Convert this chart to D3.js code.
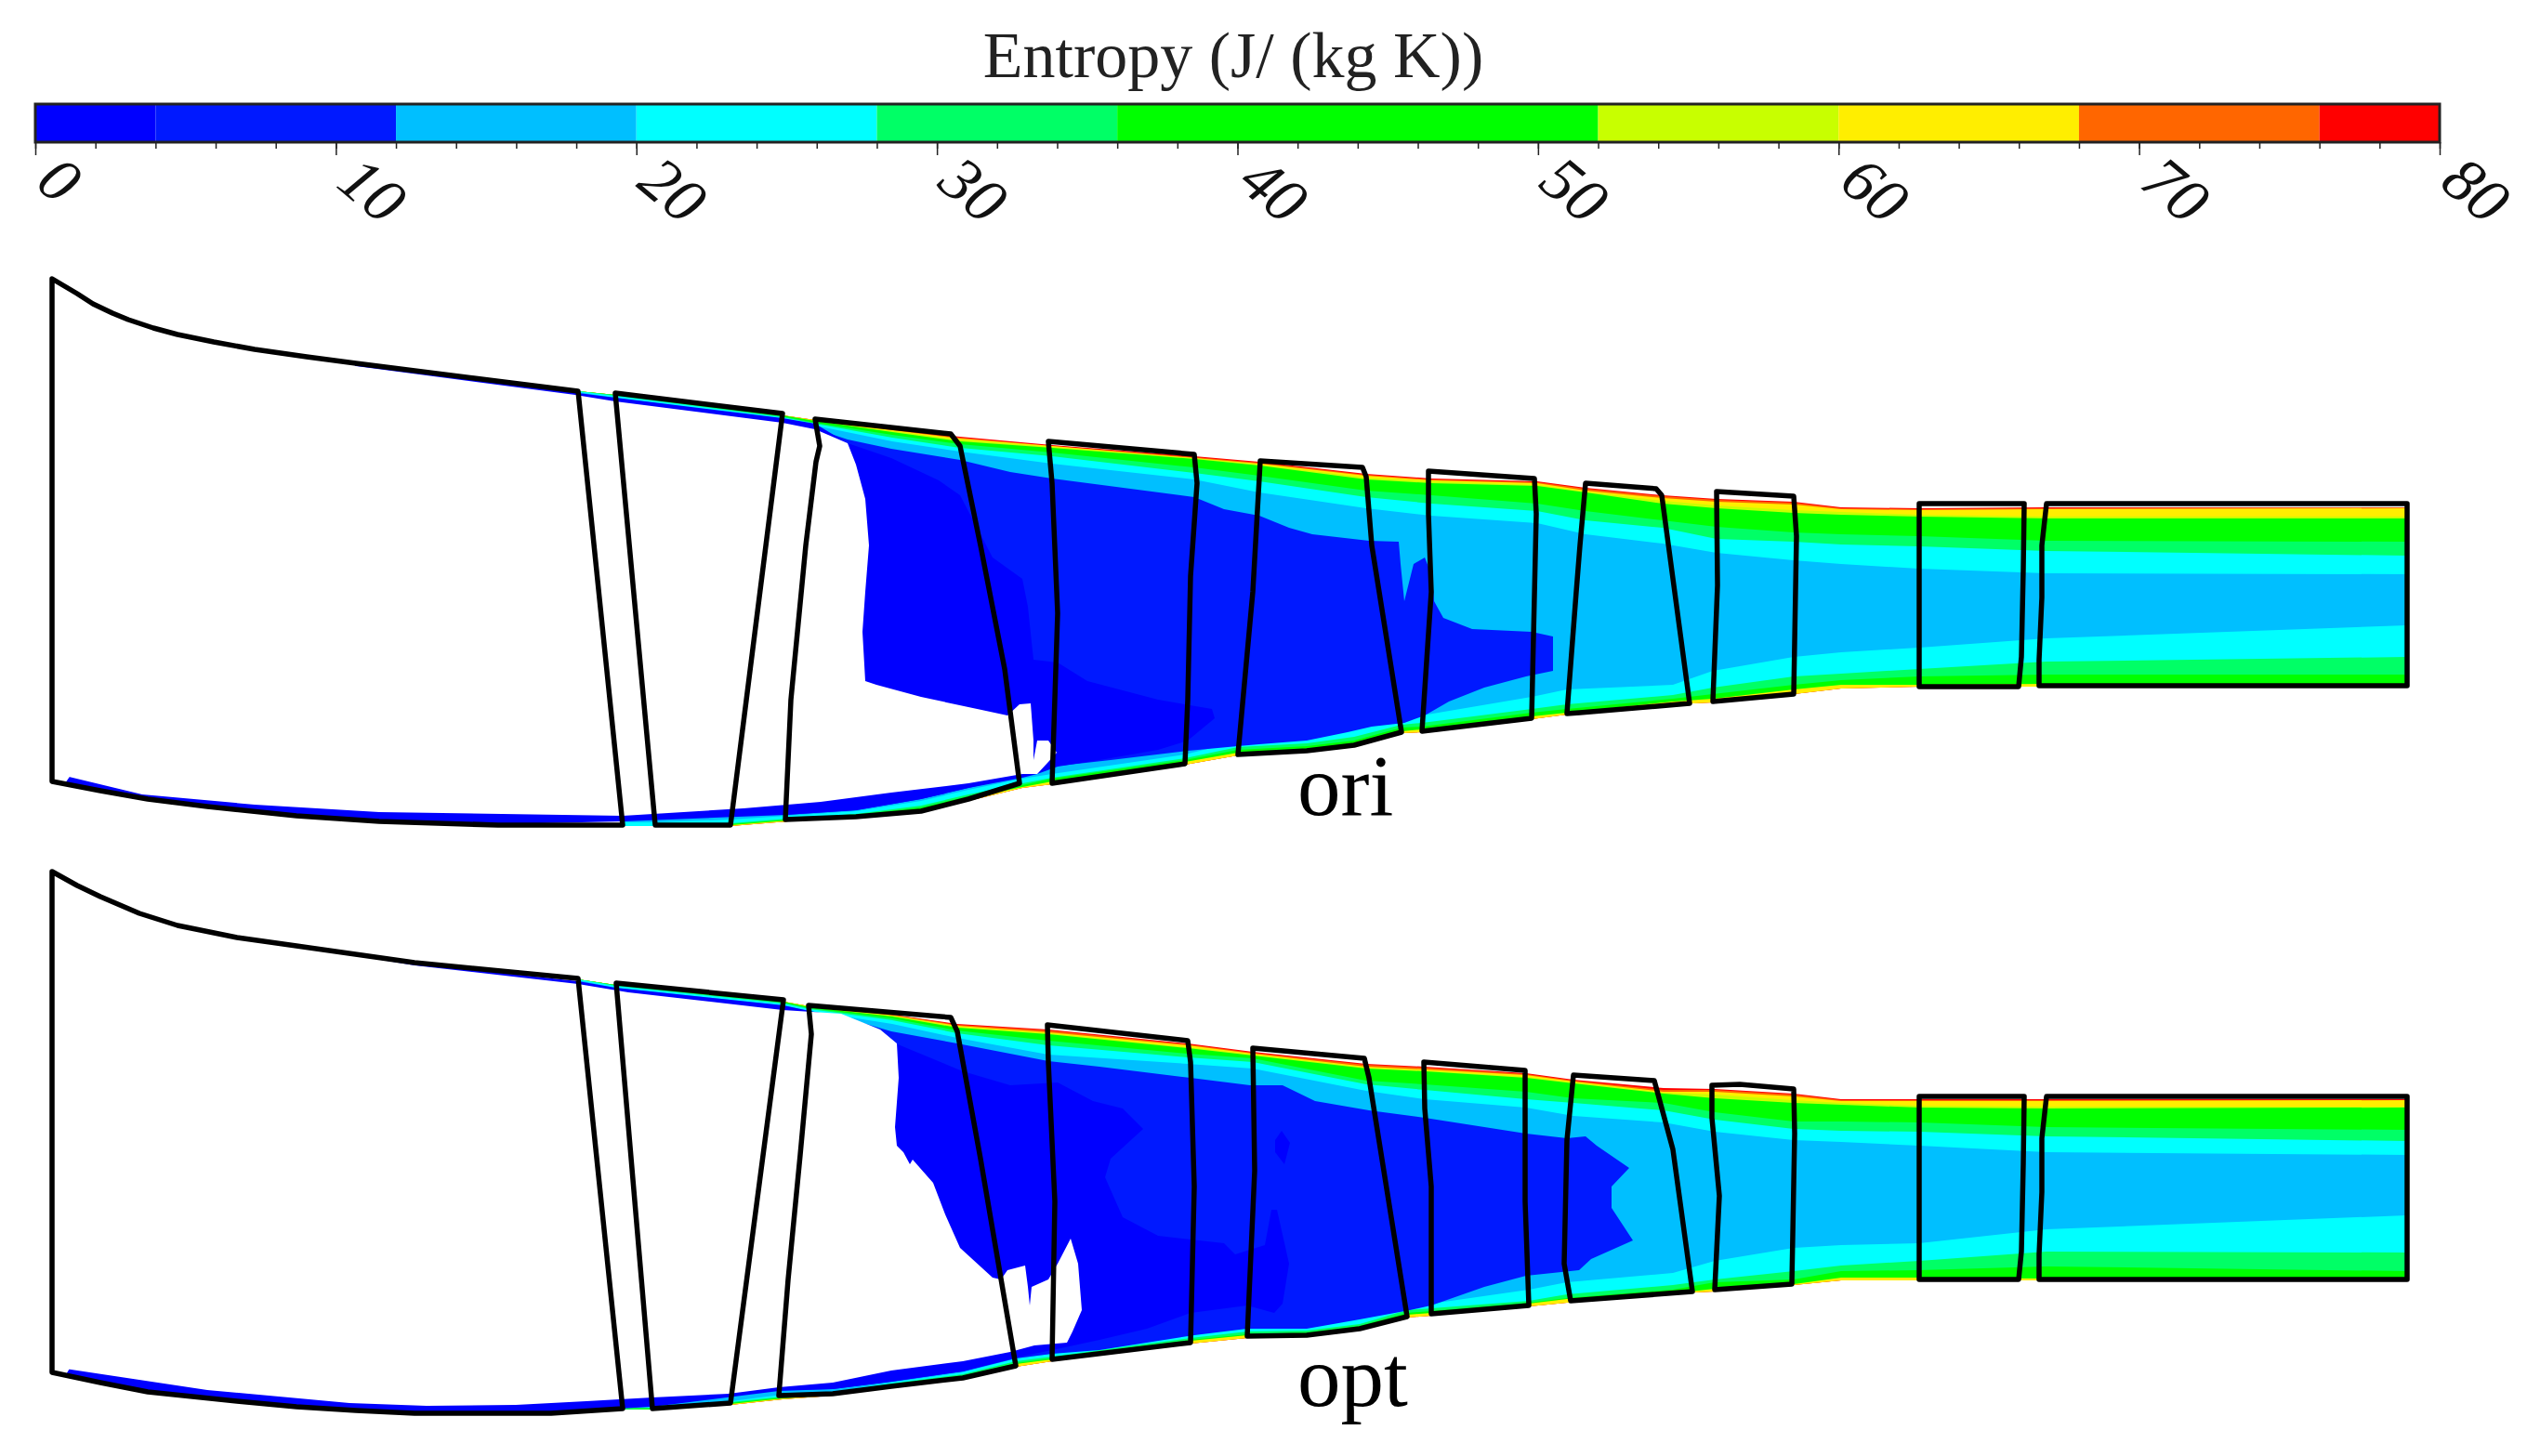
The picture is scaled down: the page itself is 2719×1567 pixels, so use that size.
<!DOCTYPE html>
<html>
<head>
<meta charset="utf-8">
<script src="https://cdn.jsdelivr.net/npm/d3@7"></script>
<style>
  html, body { margin: 0; background: #fff; }
  svg { display: block; }
</style>
</head>
<body>
<div id="chart"></div>
<script>
// colour bar
const barBreaks = [0, 4, 12, 20, 28, 36, 52, 60, 68, 76, 80];
const barColors = ["#0000ff", "#0019ff", "#00bfff", "#00ffff", "#00ff66", "#00ff00", "#c8ff00", "#ffee00", "#ff6600", "#ff0000"];
const majorTicks = [0, 10, 20, 30, 40, 50, 60, 70, 80];
const minorTicks = d3.range(0, 81, 2);
const barTitle = "Entropy (J/ (kg K))";

// all contours are [axial, depth], depth measured down from the top of each panel
// ---- ori: casing side iso-lines
const oriTipX = [622,662,842,877,960,1033,1132,1285,1355,1470,1540,1654,1706,1789,1847,1930,1981,2065,2202,2590];
const oriTipRed = [141,145,167,172,182,190,199,211,217,230,235,238,245,253,257,260,266,267,266,266];
const oriTipOrange = [141,145,167,172,182,191,200,212,218,231,236,239,246,254,258,261,267,268,267,266];
const oriTipYellow = [141,145,167,172,183,192,200,213,219,232,237,240,248,256,260,263,268,269,268,267];
const oriTipLime = [141,145,167,173,184,193,201,213,220,234,238,242,249,259,264,269,271,274,276,276];
const oriTipGreen = [141,145,167,173,185,195,202,214,221,236,240,243,250,262,267,272,274,276,278,278];
const oriTipSpring = [141,145,168,175,188,198,207,223,232,248,253,262,270,280,287,293,295,297,302,303];
const oriTipCyan = [141,146,169,176,191,202,211,229,238,255,262,270,280,288,300,303,306,308,313,318];
const oriTipSky = [142,148,172,178,195,206,219,236,250,267,275,283,295,305,315,323,327,332,337,338];
// ---- ori: hub side iso-lines
const oriHubX = [670,705,786,848,921,991,1042,1100,1132,1275,1332,1406,1457,1508,1530,1648,1686,1800,1843,1930,1981,2065,2202,2590];
const oriHubEdge = [609,609,609,604,600,593,582,568,564,543,533,529,522,509,508,494,489,478,476,467,461,459,459,459];
const oriHubGreen = [609,609,608,603,598,591,579,567,561,540,530,527,520,507,505,491,487,475,472,462,457,457,456,457];
const oriHubSpring = [609,609,607,602,597,589,577,565,558,538,527,523,517,503,502,487,483,472,467,457,452,448,446,446];
const oriHubCyan = [609,609,606,601,596,587,575,563,557,536,524,520,513,500,498,483,478,468,460,448,445,440,432,427];
const oriHubSky = [605,605,602,598,593,582,570,558,553,532,518,513,505,492,490,470,462,457,442,427,422,417,407,393];
// ---- ori: low entropy core
const oriBlue2 = [[864,177],[912,193],[959,203],[1033,215],[1087,228],[1132,235],[1285,255],[1317,268],[1355,275],[1387,288],[1412,295],[1473,302],[1505,303],[1507,327],[1511,367],[1521,327],[1533,320],[1541,340],[1543,367],[1553,385],[1584,397],[1648,400],[1671,405],[1671,442],[1642,448],[1597,460],[1559,475],[1533,490],[1511,498],[1476,502],[1450,508],[1406,517],[1355,521],[1332,523],[1278,528],[1195,538],[1132,545],[1100,555],[1042,568],[991,580],[921,592],[845,597]];
const oriBlue1 = [[383,112],[622,143],[662,148],[842,170],[877,176],[912,197],[959,213],[1010,237],[1033,253],[1068,320],[1100,343],[1106,373],[1112,430],[1138,433],[1170,453],[1246,473],[1304,483],[1307,493],[1278,517],[1246,527],[1189,537],[1138,545],[1116,553],[1100,557],[1042,568],[991,580],[921,592],[845,597],[670,604],[536,607],[408,603],[319,597],[223,587],[159,580],[70,563]];
const oriEmpty = [[56,22],[191,82],[383,114],[619,145],[662,152],[842,175],[877,182],[912,197],[921,220],[931,257],[935,307],[931,357],[928,400],[931,453],[943,457],[991,470],[1084,490],[1097,478],[1109,477],[1112,517],[1112,538],[1116,517],[1128,517],[1137,530],[1128,540],[1116,553],[1100,553],[1042,563],[959,573],[883,583],[800,590],[670,598],[408,594],[274,586],[153,575],[70,555],[56,555]];
// ---- ori: blade row outlines
const oriBlocks = [
  [[56,20],[83,36],[100,47],[121,57],[138,64],[165,73],[191,80],[230,88],[274,96],[330,104],[383,111],[510,127],[622,141],[637,286],[670,608],[536,608],[408,604],[319,598],[223,588],[159,580],[108,571],[56,561]],
  [[662,143],[842,165],[786,608],[705,608]],
  [[877,171],[1023,187],[1033,200],[1055,307],[1081,440],[1097,563],[1042,580],[991,593],[921,599],[845,602],[851,473],[867,307],[878,217],[882,200]],
  [[1128,195],[1285,209],[1288,240],[1281,340],[1278,473],[1275,542],[1132,563],[1138,380],[1132,240]],
  [[1356,216],[1466,223],[1470,233],[1476,307],[1508,508],[1457,522],[1406,528],[1332,532],[1348,357]],
  [[1537,227],[1651,235],[1653,273],[1648,493],[1530,507],[1540,357],[1537,273]],
  [[1706,240],[1782,246],[1788,253],[1818,477],[1700,487],[1686,488],[1696,357],[1700,307]],
  [[1847,249],[1930,254],[1933,297],[1930,467],[1843,475],[1848,350]],
  [[2065,262],[2178,262],[2177,333],[2175,427],[2172,459],[2065,459]],
  [[2202,262],[2590,262],[2590,458],[2194,458],[2194,430],[2197,363],[2197,307]]
];

// ---- opt: casing side iso-lines
const optTipX = [622,662,843,871,960,1030,1128,1278,1348,1470,1533,1642,1693,1790,1845,1930,1981,2065,2202,2590];
const optTipRed = [134,140,158,163,172,182,188,203,212,225,228,235,242,251,252,257,263,263,263,263];
const optTipOrange = [134,140,158,163,172,183,189,204,213,226,229,236,243,253,253,258,264,264,264,264];
const optTipYellow = [134,140,158,163,173,184,191,205,214,228,231,237,244,255,255,260,265,265,265,264];
const optTipLime = [134,140,158,163,173,185,192,207,215,229,232,239,245,256,258,264,267,270,271,271];
const optTipGreen = [134,140,158,164,174,186,193,208,216,230,233,240,246,257,262,267,269,272,273,272];
const optTipSpring = [134,140,159,165,176,189,200,214,219,243,247,255,262,267,277,287,287,288,293,296];
const optTipCyan = [134,141,160,166,178,192,205,218,223,247,253,263,267,275,285,295,297,298,303,308];
const optTipSky = [135,143,162,168,182,197,215,225,230,254,263,272,281,288,298,307,309,313,320,323];
// ---- opt: hub side iso-lines
const optHubX = [670,702,786,842,896,959,1036,1093,1132,1281,1342,1406,1463,1514,1540,1645,1686,1800,1845,1930,1981,2065,2202,2590];
const optHubEdge = [597,597,592,586,582,573,565,551,545,526,520,518,511,498,496,486,482,472,470,463,458,458,458,458];
const optHubGreen = [597,597,591,585,581,571,562,548,543,523,517,516,508,495,493,483,478,472,467,462,455,455,456,456];
const optHubSpring = [597,596,590,584,580,570,561,547,542,522,516,514,507,493,491,482,477,468,460,457,448,447,443,448];
const optHubCyan = [595,595,589,583,579,569,559,545,540,520,513,512,505,490,488,480,473,463,457,448,442,437,427,428];
const optHubSky = [594,594,588,581,578,568,557,542,537,517,508,507,498,483,483,468,460,450,437,423,420,418,403,388];
// ---- opt: low entropy core
const optBlue2 = [[870,172],[915,177],[959,190],[1030,203],[1128,222],[1183,228],[1281,240],[1345,248],[1380,248],[1415,265],[1473,275],[1533,283],[1642,300],[1686,305],[1706,303],[1718,313],[1753,337],[1734,357],[1734,380],[1757,415],[1712,435],[1699,447],[1642,453],[1597,465],[1540,485],[1517,490],[1463,500],[1406,510],[1342,510],[1285,517],[1183,533],[1132,537],[1093,542],[1036,556],[959,567],[896,575],[838,576]];
const optBlue1 = [[344,100],[446,117],[622,136],[662,143],[843,162],[871,168],[915,176],[966,204],[1036,233],[1087,248],[1138,245],[1176,265],[1208,273],[1230,295],[1195,327],[1189,347],[1208,390],[1246,410],[1317,418],[1329,430],[1361,420],[1368,382],[1374,382],[1387,440],[1380,483],[1371,493],[1342,485],[1281,493],[1234,510],[1183,522],[1132,533],[1093,541],[1036,556],[959,567],[896,575],[838,577],[702,594],[593,600],[446,600],[319,593],[223,584],[159,577],[70,561]];
const optBlue1Spot = [[1379,297],[1388,310],[1382,333],[1372,320],[1372,307]];
const optEmpty = [[56,20],[191,78],[344,102],[446,119],[622,139],[676,148],[842,167],[905,171],[947,188],[965,203],[967,240],[963,293],[965,313],[972,320],[979,333],[982,328],[1004,353],[1017,387],[1033,423],[1068,455],[1077,457],[1084,447],[1103,442],[1106,465],[1108,485],[1110,465],[1128,457],[1138,440],[1152,413],[1160,440],[1164,490],[1154,513],[1148,525],[1113,528],[1087,535],[1036,545],[959,555],[896,568],[838,573],[784,580],[702,584],[631,588],[555,592],[459,593],[376,590],[223,576],[70,553],[56,553]];
// ---- opt: blade row outlines
const optBlocks = [
  [[56,18],[83,33],[108,45],[150,63],[191,76],[255,89],[319,98],[446,116],[622,133],[670,596],[593,601],[446,601],[383,598],[319,594],[255,588],[159,578],[108,568],[56,557]],
  [[663,138],[843,156],[786,590],[702,596]],
  [[870,162],[1023,175],[1030,190],[1055,327],[1093,550],[1036,563],[959,572],[896,580],[838,582],[848,457],[861,323],[873,193]],
  [[1127,183],[1278,200],[1281,223],[1285,357],[1281,525],[1132,543],[1135,373],[1128,223]],
  [[1348,208],[1468,219],[1473,240],[1514,497],[1463,510],[1406,517],[1342,518],[1350,340]],
  [[1532,223],[1641,232],[1641,373],[1645,485],[1540,494],[1540,357],[1533,273]],
  [[1693,237],[1780,243],[1800,317],[1821,470],[1690,480],[1683,440],[1686,307]],
  [[1842,248],[1872,247],[1930,252],[1931,300],[1928,462],[1845,468],[1850,367],[1842,283]],
  [[2065,260],[2178,260],[2177,333],[2175,427],[2172,457],[2065,457]],
  [[2202,260],[2590,260],[2590,457],[2194,457],[2194,430],[2197,363],[2197,305]]
];

const width = 2719, height = 1567;
const svg = d3.select("#chart").append("svg").attr("width", width).attr("height", height);
const serif = "'Liberation Serif', 'Times New Roman', serif";

// colour bar + axis
const barX = d3.scaleLinear().domain([0, 80]).range([38, 2625]);
const barTop = 112, barBottom = 153;

svg.append("g").selectAll("rect")
  .data(barColors)
  .enter().append("rect")
  .attr("x", (d, i) => barX(barBreaks[i]))
  .attr("width", (d, i) => barX(barBreaks[i + 1]) - barX(barBreaks[i]))
  .attr("y", barTop)
  .attr("height", barBottom - barTop)
  .attr("fill", d => d);

svg.append("rect")
  .attr("x", barX(0)).attr("y", barTop)
  .attr("width", barX(80) - barX(0)).attr("height", barBottom - barTop)
  .attr("fill", "none").attr("stroke", "#222").attr("stroke-width", 3);

svg.append("g")
  .attr("transform", `translate(0,${barBottom})`)
  .call(d3.axisBottom(barX).tickValues(minorTicks).tickSize(7).tickFormat(""))
  .call(g => g.select(".domain").remove())
  .call(g => g.selectAll("line").attr("stroke", "#222").attr("stroke-width", 1.5));

svg.append("g")
  .attr("transform", `translate(0,${barBottom})`)
  .call(d3.axisBottom(barX).tickValues(majorTicks).tickSize(14).tickFormat(d3.format("d")))
  .call(g => g.select(".domain").remove())
  .call(g => g.selectAll("line").attr("stroke", "#222").attr("stroke-width", 1.5))
  .call(g => g.selectAll("text")
    .attr("x", 0).attr("y", 0).attr("dy", 0)
    .attr("text-anchor", "start")
    .attr("transform", "translate(-2,47) rotate(40)")
    .attr("font-family", serif).attr("font-size", 68).attr("font-style", "italic").attr("fill", "#111"));

svg.append("text")
  .attr("x", 1327).attr("y", 83)
  .attr("text-anchor", "middle")
  .attr("font-family", serif).attr("font-size", 70).attr("fill", "#222")
  .text(barTitle);

const xAxial = d3.scaleLinear().domain([0, width]).range([0, width]);

function toPoints(xs, ys) {
  return xs.map((x, i) => [x, ys[i]]);
}

function drawPanel(top, tipX, tips, hubX, hubs, blue2, blue1, spots, empty, blocks, label, labelY) {
  const yDepth = d3.scaleLinear().domain([0, 640]).range([top, top + 640]);
  const line = d3.line().x(d => xAxial(d[0])).y(d => yDepth(d[1]));
  const closed = pts => line(pts) + "Z";
  const g = svg.append("g");

  // nested bands, hottest first, each one painted over by the next
  const bandColor = barColors.slice().reverse();
  tips.forEach((tip, k) => {
    const pts = toPoints(tipX, tip).concat(toPoints(hubX, hubs[k]).reverse());
    g.append("path").attr("d", closed(pts)).attr("fill", bandColor[k]);
  });

  g.append("path").attr("d", closed(blue2)).attr("fill", barColors[1]);
  g.append("path").attr("d", closed(blue1)).attr("fill", barColors[0]);
  spots.forEach(s => g.append("path").attr("d", closed(s)).attr("fill", barColors[0]));
  g.append("path").attr("d", closed(empty)).attr("fill", "#fff");

  g.selectAll("path.block")
    .data(blocks)
    .enter().append("path")
    .attr("class", "block")
    .attr("d", closed)
    .attr("fill", "none")
    .attr("stroke", "#000")
    .attr("stroke-width", 5.5)
    .attr("stroke-linejoin", "round");

  svg.append("text")
    .attr("x", xAxial(1396)).attr("y", labelY)
    .attr("font-family", serif).attr("font-size", 93).attr("fill", "#000")
    .text(label);
}

drawPanel(280, oriTipX,
  [oriTipRed, oriTipOrange, oriTipYellow, oriTipLime, oriTipGreen, oriTipSpring, oriTipCyan, oriTipSky],
  oriHubX,
  [oriHubEdge, oriHubEdge, oriHubEdge, oriHubGreen, oriHubGreen, oriHubSpring, oriHubCyan, oriHubSky],
  oriBlue2, oriBlue1, [], oriEmpty, oriBlocks, "ori", 877);

drawPanel(920, optTipX,
  [optTipRed, optTipOrange, optTipYellow, optTipLime, optTipGreen, optTipSpring, optTipCyan, optTipSky],
  optHubX,
  [optHubEdge, optHubEdge, optHubEdge, optHubGreen, optHubGreen, optHubSpring, optHubCyan, optHubSky],
  optBlue2, optBlue1, [optBlue1Spot], optEmpty, optBlocks, "opt", 1513);
</script>
</body>
</html>
